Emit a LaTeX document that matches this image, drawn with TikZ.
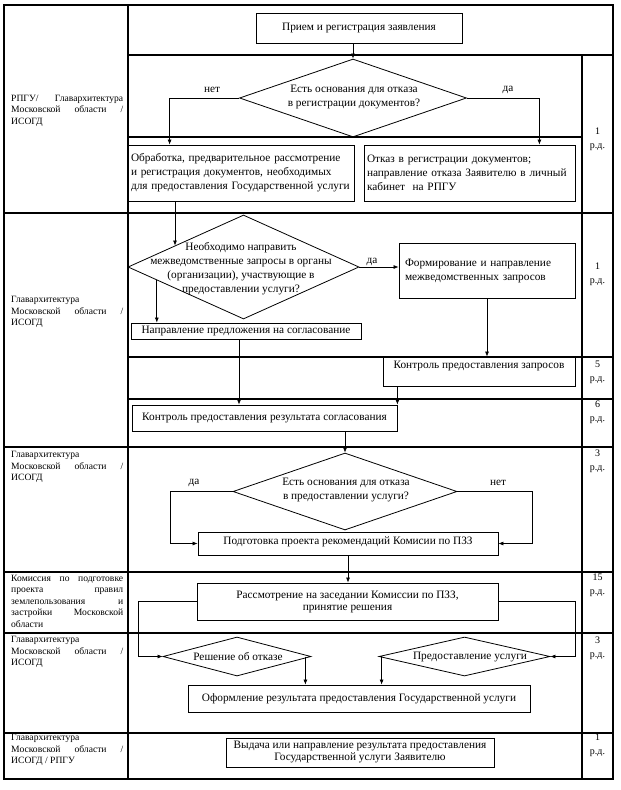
\documentclass[tikz,border=0pt]{standalone}
\usepackage{fontspec}
\setmainfont{Liberation Serif}
\usetikzlibrary{shapes.geometric,arrows.meta,calc}
\newcommand{\MainFs}{\fontsize{11.3}{14}\selectfont}
\newcommand{\TightFs}{\fontsize{11.3}{12}\selectfont}
\newcommand{\LeftFs}{\fontsize{9.6}{11.5}\selectfont}
\newcommand{\RightFs}{\fontsize{10}{14}\selectfont}
\newcommand{\JL}[1]{\makebox[112pt][s]{#1}}
\tikzset{
  tbl/.style={line width=1.1pt},
  box/.style={draw, line width=0.8pt, inner sep=0pt, font=\MainFs, align=center},
  dia/.style={draw, shape=diamond, line width=0.8pt, inner sep=0pt},
  txt/.style={inner sep=0pt, font=\MainFs, align=center},
  lcol/.style={inner sep=0pt, font=\LeftFs, align=left, anchor=west},
  rcol/.style={inner sep=0pt, font=\RightFs, align=center},
  arr/.style={line width=0.7pt, -{Latex[length=5pt,width=4pt]}},
}
\begin{document}
\begin{tikzpicture}[x=1pt,y=-1pt]
\useasboundingbox (0,0) rectangle (621,790);
\fill[white] (0,0) rectangle (621,790);
% table
\draw[tbl] (4,5) rectangle (613,779);
\draw[tbl] (128,5) -- (128,779);
\draw[tbl] (582,55) -- (582,779);
\draw[tbl] (128,55) -- (613,55);
\draw[tbl] (128,137) -- (582,137);
\draw[tbl] (4,213) -- (613,213);
\draw[tbl] (128,357) -- (613,357);
\draw[tbl] (128,399) -- (613,399);
\draw[tbl] (4,447) -- (613,447);
\draw[tbl] (4,572) -- (613,572);
\draw[tbl] (4,633) -- (613,633);
\draw[tbl] (4,733) -- (613,733);
% left column
\node[lcol] (l1) at (11,110.5) {\JL{РПГУ/ Главархитектура}\\\JL{Московской области /}\\ИСОГД};
\node[lcol] (l2) at (11,312) {Главархитектура\\\JL{Московской области /}\\ИСОГД};
\node[lcol] (l3) at (11,467) {Главархитектура\\\JL{Московской области /}\\ИСОГД};
\node[lcol] (l4) at (11,601) {\JL{Комиссия по подготовке}\\\JL{проекта правил}\\\JL{землепользования и}\\\JL{застройки Московской}\\области};
\node[lcol] (l5) at (11,652) {Главархитектура\\\JL{Московской области /}\\ИСОГД};
\node[lcol] (l6) at (11,750) {Главархитектура\\\JL{Московской области /}\\ИСОГД / РПГУ};
% right column
\node[rcol] (r1) at (597.5,139.5) {1\\р.д.};
\node[rcol] (r2) at (597.5,274.5) {1\\р.д.};
\node[rcol] (r3) at (597.5,372.5) {5\\р.д.};
\node[rcol] (r4) at (597.5,412) {6\\р.д.};
\node[rcol] (r5) at (597.5,461.5) {3\\р.д.};
\node[rcol] (r6) at (597.5,585.5) {15\\р.д.};
\node[rcol] (r7) at (597.5,648) {3\\р.д.};
\node[rcol] (r8) at (597.5,745) {1\\р.д.};
% flow nodes
\node[box, minimum width=206pt, minimum height=30pt] (b1) at (359,28) {Прием и регистрация заявления};
\node[dia, minimum width=227pt, minimum height=78pt] (d1) at (353,98) {};
\node[txt] (d1t) at (354,97) {Есть основания для отказа\\в регистрации документов?};
\node[txt] (n1) at (212,90) {нет};
\node[txt] (y1) at (508,90) {да};
\node[box, minimum width=226pt, minimum height=56pt, text width=220pt, align=left] (b2) at (241,173) {Обработка, предварительное рассмотрение\\и регистрация документов, необходимых\\для предоставления Государственной услуги};
\node[box, minimum width=211pt, minimum height=56pt, text width=205pt, align=left] (b3) at (469.5,173) {Отказ в регистрации документов;\\направление отказа Заявителю в личный\\кабинет\ \ на РПГУ};
\node[dia, minimum width=231pt, minimum height=104pt] (d2) at (243.5,267) {};
\node[txt] (d2t) at (241,269) {Необходимо направить\\межведомственные запросы в органы\\(организации), участвующие в\\предоставлении услуги?};
\node[txt] (y2) at (372,262) {да};
\node[box, minimum width=176pt, minimum height=55pt, text width=164pt, align=left] (b5) at (487,270.5) {Формирование и направление\\межведомственных запросов};
\node[box, minimum width=230pt, minimum height=16pt] (b4) at (246,331) {Направление предложения на согласование};
\node[box, minimum width=192pt, minimum height=29pt, text height=8pt, text depth=14pt] (b6) at (479,371.5) {Контроль предоставления запросов};
\node[box, minimum width=265pt, minimum height=26pt] (b7) at (264.5,418) {Контроль предоставления результата согласования};
\node[dia, minimum width=224pt, minimum height=77pt] (d3) at (345,491.5) {};
\node[txt] (d3t) at (346,490) {Есть основания для отказа\\в предоставлении услуги?};
\node[txt] (y3) at (194,483) {да};
\node[txt] (n3) at (498,483) {нет};
\node[box, minimum width=300pt, minimum height=23pt, text height=8pt, text depth=6pt] (b8) at (348,543.5) {Подготовка проекта рекомендаций Комисии по ПЗЗ};
\node[box, minimum width=301pt, minimum height=37pt, font=\TightFs] (b9) at (347.5,601.5) {Рассмотрение на заседании Комиссии по ПЗЗ,\\принятие решения};
\node[dia, minimum width=148pt, minimum height=39pt] (d4) at (237,656.5) {};
\node[txt] (d4t) at (238,657) {Решение об отказе};
\node[dia, minimum width=171pt, minimum height=39pt] (d5) at (464.5,656.5) {};
\node[txt] (d5t) at (470,657) {Предоставление услуги};
\node[box, minimum width=342pt, minimum height=27pt] (b10) at (359,698.5) {Оформление результата предоставления Государственной услуги};
\node[box, minimum width=268pt, minimum height=29pt, font=\TightFs] (b11) at (360,752.5) {Выдача или направление результата предоставления\\Государственной услуги Заявителю};
% helper coordinates
\coordinate (d2in) at ($(d2.west)!0.409!(d2.north)$);
\coordinate (d2out) at ($(d2.west)!0.252!(d2.south)$);
\coordinate (b4o) at ([xshift=-7pt]b4.south);
\coordinate (d4o) at ([xshift=-6pt]d4.east);
\coordinate (d5o) at ([xshift=3pt]d5.west);
% connectors
\draw[arr] (b1.south -| d1.north) -- (d1.north);
\draw[arr] (d1.west) -| ([xshift=42pt]b2.north west);
\draw[arr] (d1.east) -| ([xshift=-36pt]b3.north east);
\draw[arr] (b2.south -| d2in) -- (d2in);
\draw[arr] (d2out) -- (d2out |- b4.north);
\draw[arr] (d2.east) -- (d2.east -| b5.west);
\draw[arr] (b5.south) -- (b5.south |- b6.north);
\draw[arr] (b4o) -- (b4o |- b7.north);
\draw[arr] (b7.north east |- b6.south) -- (b7.north east);
\draw[arr] (d3.north |- b7.south) -- (d3.north);
\draw[arr] (d3.west) -| ([xshift=-27pt]b8.west) -- (b8.west);
\draw[arr] (d3.east) -| ([xshift=34pt]b8.east) -- (b8.east);
\draw[arr] (b8.south) -- (b8.south |- b9.north);
\draw[arr] (b9.west) -| ([xshift=-24pt]d4.west) -- (d4.west);
\draw[arr] (b9.east) -| ([xshift=25pt]d5.east) -- (d5.east);
\draw[arr] (d4o) -- (d4o |- b10.north);
\draw[arr] (d5o) -- (d5o |- b10.north);
\end{tikzpicture}
\end{document}
